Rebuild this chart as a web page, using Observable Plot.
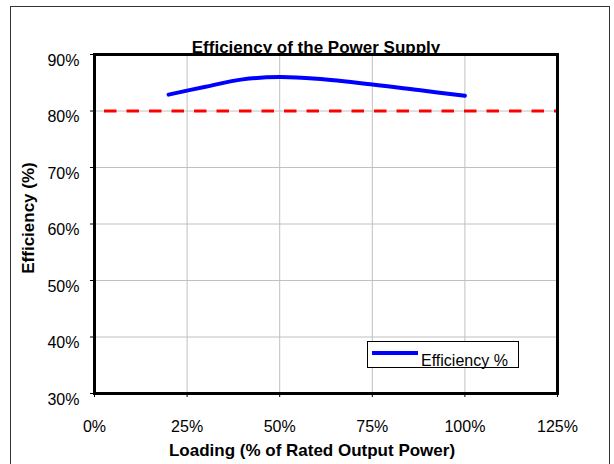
<!DOCTYPE html>
<html>
<head>
<meta charset="utf-8">
<script src="https://cdn.jsdelivr.net/npm/d3@7"></script>
<script src="https://cdn.jsdelivr.net/npm/@observablehq/plot@0.6"></script>
<style>
  html, body { margin: 0; padding: 0; background: #fff; }
  #wrap { position: relative; width: 614px; height: 464px; overflow: hidden; font-family: "Liberation Sans", Arial, sans-serif; }
  #border { position: absolute; left: 10px; top: 6px; width: 600px; height: 470px; border: 1px solid #333; box-sizing: border-box; pointer-events: none; }
  #legend { position: absolute; left: 367px; top: 341px; width: 152px; height: 27px; border: 1px solid #000; box-sizing: border-box; background: #fff; }
  #legend .sw { position: absolute; left: 4px; top: 9px; width: 46px; height: 4px; background: #0000ff; }
  #legend .lb { position: absolute; left: 53px; top: 11px; font-size: 16px; line-height: 16px; color: #000; white-space: nowrap; }
</style>
</head>
<body>
<div id="wrap">
  <div id="chart"></div>
  <div id="border"></div>
  <div id="legend"><div class="sw"></div><div class="lb">Efficiency %</div></div>
</div>
<script>
// Data
const loading = [0.20, 0.30, 0.40, 0.50, 0.60, 0.75, 0.875, 1.00];
const efficiency = [0.829, 0.843, 0.856, 0.860, 0.857, 0.847, 0.837, 0.827];
const targetEfficiency = [0.80];
const xTicks = [0, 0.25, 0.5, 0.75, 1.0, 1.25];
const yTicks = [0.3, 0.4, 0.5, 0.6, 0.7, 0.8, 0.9];
const titleText = ["Efficiency of the Power Supply"];
const xLabel = ["Loading (% of Rated Output Power)"];
const yLabel = ["Efficiency (%)"];

const data = loading.map((x, i) => ({x, y: efficiency[i]}));
const pct = d3.format(".0%");

const chart = Plot.plot({
  width: 614,
  height: 464,
  marginLeft: 94,
  marginRight: 57,
  marginTop: 54,
  marginBottom: 71,
  style: {fontFamily: "'Liberation Sans', Arial, sans-serif", fontSize: "16px", color: "#000", background: "transparent"},
  x: {domain: [0, 1.25], ticks: xTicks, tickFormat: pct},
  y: {domain: [0.3, 0.9], ticks: yTicks, tickFormat: pct},
  marks: [
    Plot.gridX(xTicks.slice(1, -1), {stroke: "#c0c0c0", strokeOpacity: 1, strokeWidth: 1}),
    Plot.gridY(yTicks.slice(1, -1), {stroke: "#c0c0c0", strokeOpacity: 1, strokeWidth: 1}),
    Plot.axisX(xTicks, {tickSize: 4, tickPadding: 23, tickFormat: pct, label: null, fontSize: 16}),
    Plot.axisY(yTicks, {tickSize: 4, tickFormat: () => "", label: null}),
    Plot.axisY(yTicks, {tickSize: 0, tickPadding: 15, dy: 6, tickFormat: pct, label: null, fontSize: 16}),
    Plot.ruleY(targetEfficiency, {stroke: "#ff0000", strokeWidth: 3, strokeDasharray: "12.5,10", strokeDashoffset: 12.5}),
    Plot.line(data, {x: "x", y: "y", stroke: "#0000ff", strokeWidth: 4, curve: "catmull-rom"}),
    Plot.frame({stroke: "#000", strokeWidth: 3}),
    Plot.text(titleText, {frameAnchor: "top", lineAnchor: "middle", dx: -10, dy: -7, fontWeight: "bold", fontSize: 17, fill: "#000"}),
    Plot.text(xLabel, {frameAnchor: "bottom", lineAnchor: "middle", dx: -14, dy: 57, fontWeight: "bold", fontSize: 17, fill: "#000"}),
    Plot.text(yLabel, {frameAnchor: "left", textAnchor: "middle", lineAnchor: "middle", dx: -66, dy: -6, rotate: -90, fontWeight: "bold", fontSize: 17, fill: "#000"})
  ]
});
document.getElementById("chart").appendChild(chart);
</script>
</body>
</html>
